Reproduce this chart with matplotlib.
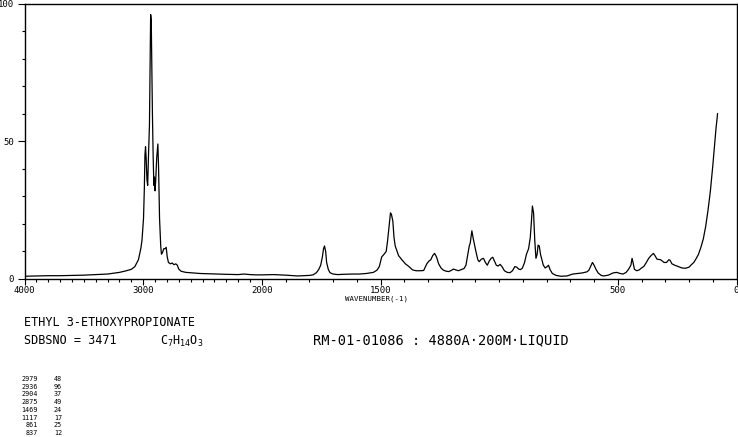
import matplotlib
matplotlib.use('Agg')
import matplotlib.pyplot as plt
import numpy as np

# Raman spectrum (wavenumber, relative intensity)
wavenumber = [
    4000, 3900, 3800, 3700, 3600, 3500, 3400, 3300, 3250, 3200, 3150, 3100,
    3070, 3040, 3020, 3010, 2997, 2990, 2985, 2980, 2975, 2968, 2962, 2955,
    2947, 2942, 2937, 2932, 2928, 2922, 2916, 2910, 2905, 2900, 2894, 2886,
    2876, 2870, 2862, 2852, 2846, 2838, 2826, 2815, 2806, 2797, 2787, 2770,
    2756, 2740, 2725, 2712, 2700, 2680, 2640, 2580, 2520, 2450, 2400, 2300,
    2200, 2150, 2100, 2050, 2000, 1950, 1900, 1850, 1800, 1784, 1770, 1760,
    1752, 1745, 1740, 1736, 1731, 1727, 1720, 1713, 1700, 1680, 1657, 1620,
    1590, 1560, 1530, 1515, 1505, 1495, 1485, 1476, 1470, 1463, 1458, 1454,
    1448, 1443, 1438, 1430, 1424, 1410, 1395, 1380, 1365, 1350, 1330, 1318,
    1305, 1296, 1288, 1280, 1272, 1264, 1255, 1245, 1235, 1222, 1212, 1200,
    1193, 1182, 1172, 1160, 1148, 1140, 1132, 1126, 1122, 1115, 1110, 1104,
    1098, 1090, 1084, 1075, 1066, 1058, 1050, 1042, 1034, 1027, 1020, 1012,
    1005, 996, 988, 978, 966, 954, 944, 934, 926, 918, 910, 902,
    893, 885, 876, 869, 864, 860, 855, 850, 845, 840, 836, 831,
    826, 820, 814, 806, 798, 792, 786, 776, 760, 740, 714, 690,
    670, 650, 630, 622, 615, 607, 600, 592, 583, 570, 560, 540,
    520, 505, 490, 478, 465, 455, 445, 440, 436, 430, 420, 410,
    400, 390, 380, 370, 360, 350, 343, 335, 320, 305, 295, 285,
    280, 272, 260, 245, 230, 215, 200, 190, 180, 170, 160, 150,
    140, 130, 120, 110, 100, 92, 86, 82, 80,
]
intensity = [
    1.0, 1.1, 1.2, 1.2, 1.3, 1.4, 1.6, 1.8, 2.1, 2.4, 2.9, 3.5,
    4.5, 7, 11, 14, 22, 33, 45, 48, 44, 36, 34, 45,
    56, 75, 96, 94, 80, 60, 45, 34, 37, 32, 36, 44,
    49, 40, 22, 12, 9, 9.5, 11, 11, 11.5, 8, 6, 5.5,
    5.8, 5.2, 5.5, 5, 3.6, 2.8, 2.4, 2.2, 2.0, 1.9, 1.8, 1.7,
    1.6, 1.8, 1.6, 1.5, 1.5, 1.6, 1.4, 1.1, 1.3, 1.5, 2.3, 3.5,
    5, 8, 11, 12, 10, 6, 3.5, 2.3, 1.8, 1.6, 1.7, 1.8,
    1.8, 2.0, 2.4, 3.2, 4.5, 8, 9, 10, 14, 20, 24, 23.5,
    21, 15, 12, 10, 8.5, 7, 5.5, 4.5, 3.3, 3.0, 3.0, 3.1,
    5.5, 6.5, 7, 8.5, 9.3, 8, 5.5, 4, 3.2, 2.8, 2.7, 3.2,
    3.6, 3.3, 3.0, 3.4, 3.8, 5, 9, 12, 13, 17.5, 15, 12.5,
    10, 7, 6.3, 7.2, 7.5, 6, 5, 6.5, 7.5, 7.9, 6.5, 5,
    4.7, 5.3, 4.5, 3.0, 2.4, 2.3, 3, 4.5, 4.3, 3.6, 3.4, 4,
    6, 9, 11, 15, 21, 26.5, 24, 14, 7.5, 9, 12.3, 12,
    9, 7, 5, 4.0, 4.5, 5, 3.5, 2.0, 1.3, 1.0, 1.1, 1.8,
    2.0, 2.2, 2.6, 3.2, 4.5, 6, 5.0, 3.5, 2.2, 1.3, 1.1, 1.4,
    2.2, 2.4, 2.0, 1.8, 2.4, 3.5, 5, 7.5, 6, 3.5, 3.0, 3.3,
    4.0, 4.6, 6, 7.5, 8.5, 9.3, 8.4, 7.2, 7.0, 6.0, 6.0, 7.0,
    6.8, 5.5, 5.0, 4.5, 4.0, 3.9, 4.3, 5.2, 6.0, 7.4, 9.0, 11.5,
    14.5, 19, 25, 32, 41, 49, 55, 58, 60,
]

# peak table printed under the chart
peak_wn = ['2979', '2936', '2904', '2875', '1469', '1117', '861', '837']
peak_int = ['48', '96', '37', '49', '24', '17', '25', '12']

x_major = [4000, 3000, 2000, 1500, 500, 0]
x_labels = ['4000', '3000', '2000', '1500', '500', '0']
y_major = [0, 50, 100]

compound = 'ETHYL 3-ETHOXYPROPIONATE'
sdbs_no = 'SDBSNO = 3471'
formula = r'$\mathregular{C_7H_{14}O_3}$'
conditions = 'RM-01-01086 : 4880A\u00b7200M\u00b7LIQUID'

W, H = 738, 437
mono = 'DejaVu Sans Mono'


# wavenumber axis is compressed by 2 above 2000 cm-1
def forward(w):
    w = np.asarray(w, dtype=float)
    return np.where(w < 2000, w, 2000 + (w - 2000) / 2.0)


def inverse(g):
    g = np.asarray(g, dtype=float)
    return np.where(g < 2000, g, 2000 + (g - 2000) * 2.0)


fig = plt.figure(figsize=(W / 100, H / 100), dpi=100)
ax = fig.add_axes([24.5 / W, 1 - 279 / H, 712 / W, 275.5 / H])
ax.set_xscale('function', functions=(forward, inverse))
ax.plot(wavenumber, intensity, color='black', lw=0.9)
ax.set_xlim(4000, 0)
ax.set_ylim(0, 100)

ax.set_xticks(x_major)
ax.set_xticklabels(x_labels)
ax.set_xticks(np.arange(0, 4001, 100), minor=True)
ax.set_yticks(y_major)
ax.set_yticklabels([str(v) for v in y_major])
ax.set_yticks(np.arange(0, 101, 10), minor=True)

for s in ax.spines.values():
    s.set_linewidth(1.0)
ax.tick_params(axis='x', which='major', direction='out', length=4.2,
               width=0.8, pad=0.5, labelsize=6.5)
ax.tick_params(axis='x', which='minor', direction='out', length=1.8,
               width=0.8)
ax.tick_params(axis='y', which='major', direction='out', length=5.4,
               width=0.8, pad=2, labelsize=6.5)
ax.tick_params(axis='y', which='minor', direction='out', length=2.0,
               width=0.8)
for lab in ax.get_xticklabels() + ax.get_yticklabels():
    lab.set_family(mono)

fig.text(377 / W, 1 - 299 / H, 'WAVENUMBER(-1)', family=mono, fontsize=5.3,
         ha='center', va='center')

# header lines
fig.text(24 / W, 1 - 323 / H, compound, family=mono, fontsize=8.5,
         va='center')
fig.text(24 / W, 1 - 340 / H, sdbs_no, family=mono, fontsize=8.5,
         va='center')
fig.text(160 / W, 1 - 341 / H, formula, family=mono, fontsize=8.5,
         va='center')
fig.text(313 / W, 1 - 340 / H, conditions, family=mono, fontsize=9.8,
         va='center')

# peak list
for i in range(len(peak_wn)):
    y = 1 - (379 + i * 7.7) / H
    fig.text(38 / W, y, peak_wn[i], family=mono, fontsize=4.9,
             ha='right', va='center')
    fig.text(62 / W, y, peak_int[i], family=mono, fontsize=4.9,
             ha='right', va='center')

fig.savefig('out.png', dpi=100)
